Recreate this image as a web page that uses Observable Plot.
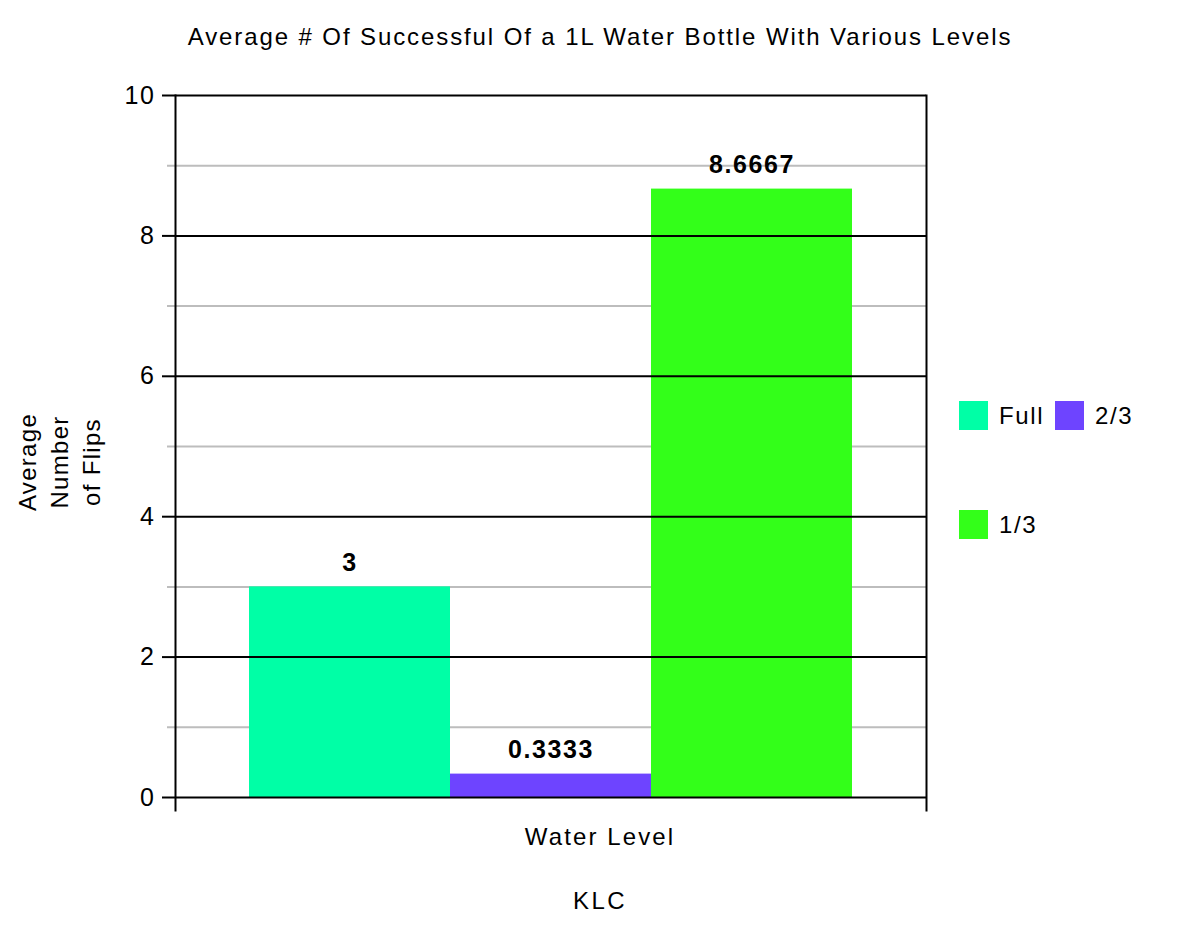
<!DOCTYPE html>
<html>
<head>
<meta charset="utf-8">
<script src="https://cdn.jsdelivr.net/npm/d3@7"></script>
<script src="https://cdn.jsdelivr.net/npm/@observablehq/plot@0.6"></script>
<style>
  html, body { margin: 0; padding: 0; background: #fff; }
  body { font-family: "Liberation Sans", Arial, Helvetica, sans-serif; color: #000; }
  #wrap { position: relative; width: 1200px; height: 926px; }
  #wrap svg { position: absolute; left: 0; top: 0; }
  #wrap svg text { letter-spacing: 1.6px; }
  .abs { position: absolute; white-space: nowrap; }
  #title { left: 0; width: 1200px; top: 23px; text-align: center; font-size: 24px; letter-spacing: 1.9px; }
  #xlabel { left: 0; width: 1200px; top: 823px; text-align: center; font-size: 24px; letter-spacing: 2.1px; }
  #caption { left: 0; width: 1200px; top: 887px; text-align: center; font-size: 24px; letter-spacing: 2.4px; }
  #ylabel { left: 60px; top: 462px; transform: translate(-50%, -50%) rotate(-90deg); text-align: center; font-size: 24px; line-height: 32px; letter-spacing: 1.3px; }
  .sw { position: absolute; width: 29px; height: 29px; }
  .lt { position: absolute; font-size: 24px; line-height: 29px; letter-spacing: 1.6px; }
</style>
</head>
<body>
<div id="wrap"></div>
<script>
const categories = ["Full", "2/3", "1/3"];
const values = [3, 0.3333, 8.6667];
const labels = ["3", "0.3333", "8.6667"];
const colors = ["#00ffa6", "#6e44ff", "#33ff19"];
const majorTicks = [0, 2, 4, 6, 8, 10];
const minorTicks = [1, 3, 5, 7, 9];
const title = "Average # Of Successful Of a 1L Water Bottle With Various Levels";
const xTitle = "Water Level";
const yTitle = ["Average", "Number", "of Flips"];
const caption = "KLC";

const data = categories.map((c, i) => ({category: c, value: values[i], label: labels[i]}));

const chart = Plot.plot({
  width: 1200,
  height: 926,
  marginLeft: 175,
  marginRight: 274,
  marginTop: 95,
  marginBottom: 129,
  style: {fontFamily: '"Liberation Sans", Arial, Helvetica, sans-serif', fontSize: "24px", color: "#000", background: "transparent"},
  x: {domain: categories, paddingInner: 0, paddingOuter: 0.368, axis: null},
  y: {domain: [0, 10], axis: null},
  color: {domain: categories, range: colors},
  marks: [
    Plot.ruleY(minorTicks, {stroke: "#bdbdbd", strokeWidth: 2, insetLeft: -8}),
    Plot.barY(data, {x: "category", y: "value", fill: "category"}),
    Plot.ruleY(majorTicks, {stroke: "#000", strokeWidth: 2}),
    Plot.axisY(majorTicks, {tickSize: 13, tickPadding: 7, tickFormat: d => String(d), stroke: "#000", strokeWidth: 2, fontSize: 25, label: null}),
    Plot.frame({anchor: "left", stroke: "#000", strokeWidth: 2, insetBottom: -13}),
    Plot.frame({anchor: "right", stroke: "#000", strokeWidth: 2, insetBottom: -13}),
    Plot.text(data, {x: "category", y: "value", text: "label", dy: -24, fontWeight: "bold", fontSize: 25})
  ]
});

const wrap = document.getElementById("wrap");
wrap.appendChild(chart);

function addDiv(id, text) {
  const d = document.createElement("div");
  d.className = "abs";
  d.id = id;
  d.textContent = text;
  wrap.appendChild(d);
  return d;
}
addDiv("title", title);
addDiv("xlabel", xTitle);
addDiv("caption", caption);
const yl = addDiv("ylabel", "");
yl.innerHTML = yTitle.join("<br>");

// legend
const legendPos = [[959, 401], [1055, 401], [959, 510]];
categories.forEach((c, i) => {
  const s = document.createElement("div");
  s.className = "sw";
  s.style.left = legendPos[i][0] + "px";
  s.style.top = legendPos[i][1] + "px";
  s.style.background = colors[i];
  wrap.appendChild(s);
  const t = document.createElement("div");
  t.className = "lt";
  t.style.left = (legendPos[i][0] + 40) + "px";
  t.style.top = legendPos[i][1] + "px";
  t.textContent = c;
  wrap.appendChild(t);
});
</script>
</body>
</html>
